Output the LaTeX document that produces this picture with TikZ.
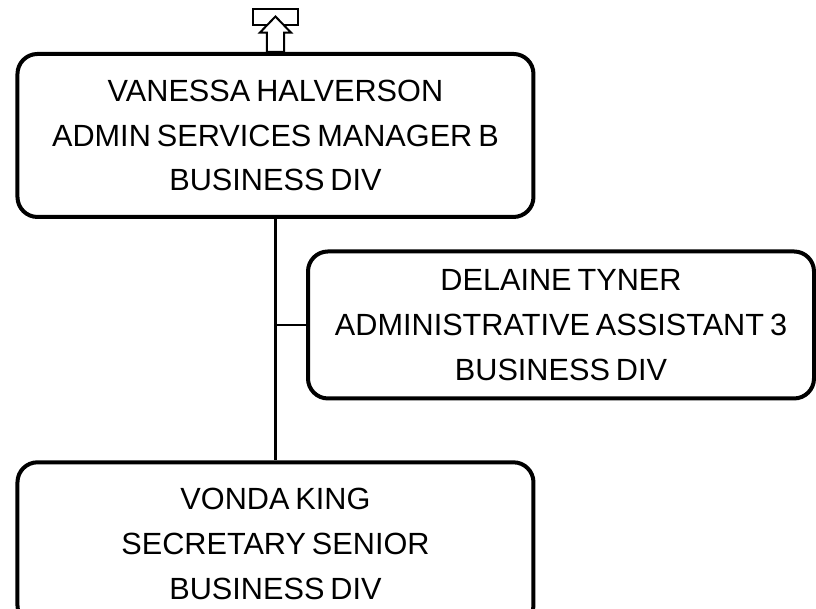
\documentclass[tikz,border=0pt]{standalone}
\usepackage{fontspec}
\setmainfont{Liberation Sans}[WordSpace=0.7]
\usetikzlibrary{%
	positioning,
	calc
}

\begin{document}
\begin{tikzpicture}[
		staff/.style={draw,shape=rectangle,line width=3pt,rounded corners=15pt,align=center,minimum width=387pt,minimum height=122.25pt,font=\fontsize{23}{33.5}\selectfont},
		link/.style={draw,line width=1.6pt},
		upicon/.style={draw,line width=1.5pt,fill=white}
	]
	
		\useasboundingbox (-206.6pt,101.6pt) rectangle (405.4pt,-354.4pt);
		
		%manager
		\node(VH) [staff] {VANESSA HALVERSON\\ADMIN SERVICES MANAGER B\\BUSINESS DIV};
		\node(DT) [staff, minimum width=379.5pt, minimum height=110.25pt, below right=79.5pt and 22.9pt of VH.south, anchor=west] {DELAINE TYNER\\ADMINISTRATIVE ASSISTANT 3\\BUSINESS DIV};
		\node(VK) [staff, below=181pt of VH] {VONDA KING\\SECRETARY SENIOR\\BUSINESS DIV};
		
		\draw [link] (VH.south) -- (VK.north);
		\draw [link] (VH.south |- DT.west) -- (DT.west);
		
		%up
		\draw [upicon] ($(VH.north)+(-16.9pt,19.9pt)$) rectangle ($(VH.north)+(16.9pt,32.6pt)$);
		\draw [upicon] ($(VH.north)+(-6.4pt,0)$) -- ($(VH.north)+(-6.4pt,14.6pt)$) -- ($(VH.north)+(-11.6pt,14.6pt)$) -- ($(VH.north)+(0,26.6pt)$) -- ($(VH.north)+(11.6pt,14.6pt)$) -- ($(VH.north)+(6.4pt,14.6pt)$) -- ($(VH.north)+(6.4pt,0)$) -- cycle;
		
	\end{tikzpicture}
\end{document}
